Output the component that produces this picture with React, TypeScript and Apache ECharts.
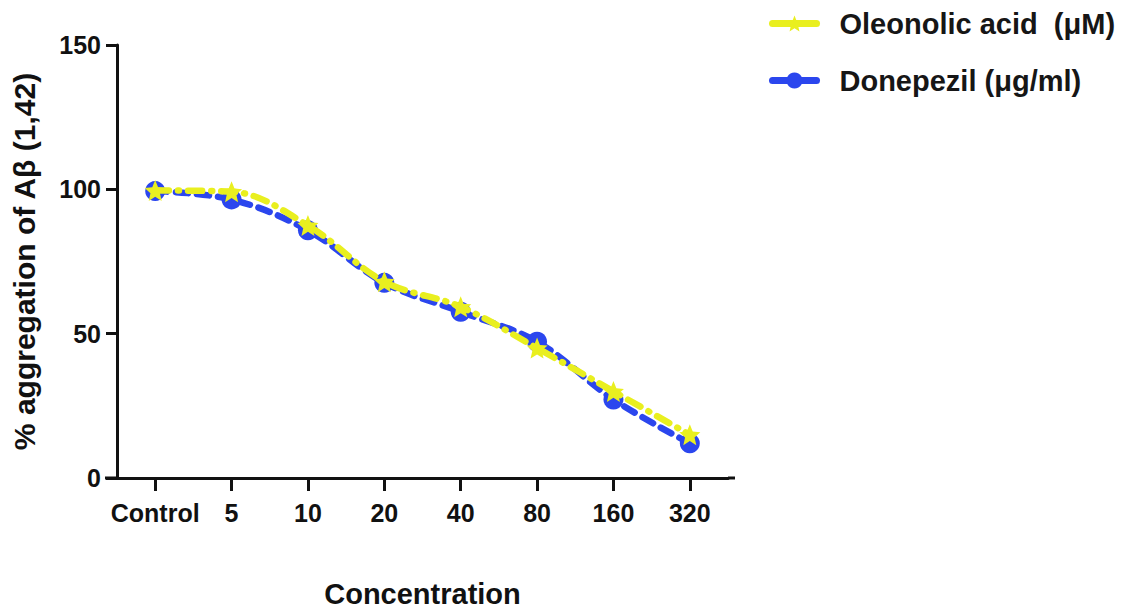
import React, { useEffect, useRef } from "react";
import * as echarts from "echarts";

const categories = ["Control", "5", "10", "20", "40", "80", "160", "320"];
const oleanolicValues = [99.6, 99.2, 87.5, 68.0, 59.3, 45.0, 30.0, 15.0];
const donepezilValues = [99.4, 96.5, 85.8, 67.6, 57.6, 47.2, 27.2, 12.0];
const yTicks = { min: 0, max: 150, interval: 50 };
const seriesNames = ["Oleonolic acid  (\u03bcM)", "Donepezil (\u03bcg/ml)"];

const FONT = '"Liberation Sans", Arial, Helvetica, sans-serif';
const GRID_LEFT = 117;
const GRID_TOP = 45;
const GRID_W = 611;
const GRID_H = 433;

function starPath(): string {
  const pts: string[] = [];
  for (let i = 0; i < 10; i++) {
    const r = i % 2 === 0 ? 1 : 0.45;
    const a = -Math.PI / 2 + (i * Math.PI) / 5;
    const x = (r * Math.cos(a) * 50 + 50).toFixed(2);
    const y = (r * Math.sin(a) * 50 + 50).toFixed(2);
    pts.push((i === 0 ? "M" : "L") + x + " " + y);
  }
  return "path://" + pts.join(" ") + " Z";
}

export default function App() {
  const ref = useRef<HTMLDivElement>(null);
  useEffect(() => {
    if (!ref.current) return;
    const chart = echarts.init(ref.current, null, { renderer: "svg" });
    const axisY = GRID_TOP + GRID_H;
    chart.setOption({
      animation: false,
      backgroundColor: "#ffffff",
      textStyle: { fontFamily: FONT },
      grid: { left: GRID_LEFT, top: GRID_TOP, width: GRID_W, height: GRID_H, containLabel: false },
      legend: {
        data: seriesNames,
        orient: "vertical",
        left: 764,
        top: 4,
        itemWidth: 44,
        itemHeight: 20,
        itemGap: 28,
        lineStyle: { width: 7, type: "solid" },
        textStyle: { fontFamily: FONT, fontSize: 29, fontWeight: "bold", color: "#161616", padding: [0, 0, 0, 18] },
      },
      xAxis: {
        type: "category",
        data: categories,
        boundaryGap: true,
        axisLine: { show: true, lineStyle: { color: "#111", width: 3 } },
        axisTick: { show: true, inside: false, alignWithLabel: true, interval: 0, length: 13, lineStyle: { color: "#111", width: 3 } },
        axisLabel: { interval: 0, fontFamily: FONT, fontSize: 25, fontWeight: "bold", color: "#111", margin: 22 },
        name: "Concentration",
        nameLocation: "middle",
        nameGap: 101,
        nameTextStyle: { fontFamily: FONT, fontSize: 29, fontWeight: "bold", color: "#111" },
      },
      yAxis: {
        type: "value",
        min: yTicks.min,
        max: yTicks.max,
        interval: yTicks.interval,
        splitLine: { show: false },
        axisLine: { show: true, lineStyle: { color: "#111", width: 3 } },
        axisTick: { show: true, length: 11, lineStyle: { color: "#111", width: 3 } },
        axisLabel: { fontFamily: FONT, fontSize: 25, fontWeight: "bold", color: "#111", margin: 16 },
        name: "% aggregation of A\u03b2 (1,42)",
        nameLocation: "middle",
        nameGap: 78,
        nameTextStyle: { fontFamily: FONT, fontSize: 30, fontWeight: "bold", color: "#111" },
      },
      graphic: [
        {
          type: "line",
          shape: { x1: GRID_LEFT - 12, y1: axisY, x2: GRID_LEFT, y2: axisY },
          style: { stroke: "#111", lineWidth: 3 },
        },
        {
          type: "line",
          shape: { x1: GRID_LEFT + GRID_W, y1: axisY, x2: GRID_LEFT + GRID_W + 7, y2: axisY },
          style: { stroke: "#111", lineWidth: 3 },
        },
      ],
      series: [
        {
          name: seriesNames[1],
          type: "line",
          data: donepezilValues,
          smooth: 0.35,
          z: 2,
          symbol: "circle",
          symbolSize: 20,
          color: "#2b46ee",
          itemStyle: { color: "#2b46ee" },
          lineStyle: { color: "#2b46ee", width: 6.5, type: [12, 9], cap: "round" },
        },
        {
          name: seriesNames[0],
          type: "line",
          data: oleanolicValues,
          smooth: 0.35,
          z: 3,
          symbol: starPath(),
          symbolSize: 21,
          color: "#e9ef1f",
          itemStyle: { color: "#e9ef1f" },
          lineStyle: { color: "#e9ef1f", width: 6.5, type: [14, 9, 1, 9], cap: "round" },
        },
      ],
    });
    return () => chart.dispose();
  }, []);
  return (
    <div
      ref={ref}
      style={{ position: "fixed", left: 0, top: 0, width: 1130, height: 616 }}
    />
  );
}
